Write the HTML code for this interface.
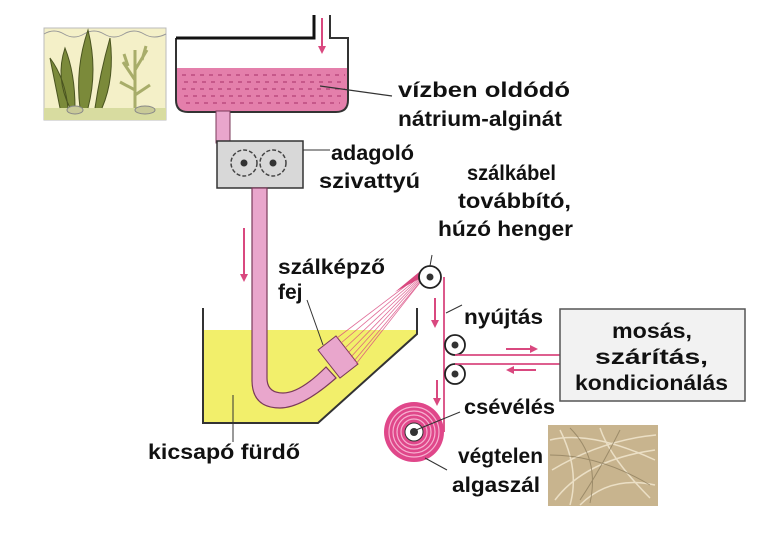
<!DOCTYPE html>
<html><head><meta charset="utf-8"><style>
html,body{margin:0;padding:0;background:#fff;}
svg{display:block;}
text{font-family:"Liberation Sans",sans-serif;font-weight:bold;font-size:21px;fill:#111;}
</style></head><body>
<svg width="772" height="533" viewBox="0 0 772 533" xmlns="http://www.w3.org/2000/svg">
<defs>
<marker id="ah" markerWidth="8" markerHeight="8" refX="4" refY="4" orient="auto" markerUnits="userSpaceOnUse"><path d="M0,0 L8,4 L0,8 Z" fill="#d9487f"/></marker>
</defs>
<!-- algae picture -->
<rect x="44" y="28" width="122" height="92" fill="#f4f0c8" stroke="#bbb"/>
<path d="M44,34 q10,-6 20,0 t20,0 t20,0 t20,0 t20,0 t22,0" fill="none" stroke="#999"/>
<rect x="44" y="108" width="122" height="12" fill="#d8dca0"/>
<path d="M70,108 q-15,-30 -5,-60 q10,25 10,60 M80,108 q-5,-40 8,-78 q10,40 0,78 M95,108 q5,-35 15,-70 q5,40 -8,70 M60,108 q-5,-25 -10,-50 q15,20 18,50" fill="#7b8a3a" stroke="#4a5420" stroke-width="1"/>
<path d="M135,108 L135,50 M135,80 l-12,-18 M135,70 l12,-20 M135,90 l-15,-8 M135,95 l15,-10 M128,66 l-4,-12 M142,60 l4,-14" stroke="#a8ad6a" stroke-width="3" fill="none"/>
<ellipse cx="75" cy="110" rx="8" ry="4" fill="#c9ca98" stroke="#888"/>
<ellipse cx="145" cy="110" rx="10" ry="4" fill="#c9ca98" stroke="#888"/>
<!-- top tank -->
<path d="M176,68 L176,100 q0,12 12,12 L336,112 q12,0 12,-12 L348,68 Z" fill="#e47fab"/>
<g stroke="#a8306a" stroke-width="1" stroke-dasharray="4,5"><line x1="182" y1="75" x2="345" y2="75"/><line x1="184" y1="82" x2="345" y2="82"/><line x1="182" y1="89" x2="345" y2="89"/><line x1="184" y1="96" x2="345" y2="96"/><line x1="186" y1="103" x2="340" y2="103"/></g>
<path d="M176,38 L176,100 q0,12 12,12 L336,112 q12,0 12,-12 L348,38 L330,38 L330,15" fill="none" stroke="#333" stroke-width="2"/>
<path d="M176,38 L314,38 L314,15" fill="none" stroke="#111" stroke-width="3"/>
<line x1="322" y1="18" x2="322" y2="50" stroke="#d9487f" stroke-width="2" marker-end="url(#ah)"/>
<line x1="320" y1="86" x2="392" y2="96" stroke="#333" stroke-width="1.2"/>
<text x="398" y="97" textLength="172" lengthAdjust="spacingAndGlyphs">vízben oldódó</text>
<text x="398" y="126" textLength="164" lengthAdjust="spacingAndGlyphs">nátrium-alginát</text>
<!-- pipe top to pump -->
<rect x="216" y="111" width="14" height="32" fill="#e9a6cc" stroke="#7a3a5a"/>
<!-- pump -->
<rect x="217" y="141" width="86" height="47" fill="#d8d8d8" stroke="#333" stroke-width="1.5"/>
<g fill="#d8d8d8" stroke="#444" stroke-width="1.5">
<circle cx="244" cy="163" r="13" stroke-dasharray="4,2"/>
<circle cx="273" cy="163" r="13" stroke-dasharray="4,2"/>
</g>
<circle cx="244" cy="163" r="3.5" fill="#333"/><circle cx="273" cy="163" r="3.5" fill="#333"/>
<line x1="303" y1="150" x2="330" y2="150" stroke="#333"/>
<text x="331" y="160" textLength="83" lengthAdjust="spacingAndGlyphs">adagoló</text>
<text x="319" y="188" textLength="101" lengthAdjust="spacingAndGlyphs">szivattyú</text>
<!-- bath -->
<path d="M203,330 L417,330 L417,334 L318,423 L203,423 Z" fill="#f2ef6b"/>
<path d="M203,308 L203,423 L318,423 L417,334 L417,308" fill="none" stroke="#333" stroke-width="2"/>
<!-- pipe J -->
<path d="M252,188 L252,380 Q252,408 280,408 Q302,408 336,378 L326,367 Q300,393 283,393 Q267,393 267,378 L267,188 Z" fill="#e9a6cc" stroke="#7a3a5a" stroke-width="1.2"/>
<!-- nozzle -->
<path d="M318,350 L336,336 L358,364 L340,378 Z" fill="#e9a6cc" stroke="#7a3a5a"/>
<line x1="244" y1="228" x2="244" y2="278" stroke="#d9487f" stroke-width="2" marker-end="url(#ah)"/>
<!-- fibers -->
<g stroke="#d9487f" stroke-width="0.8" opacity="0.8">
<line x1="337" y1="338" x2="424" y2="272"/><line x1="341" y1="343" x2="424" y2="273"/><line x1="345" y1="348" x2="425" y2="273"/><line x1="348" y1="353" x2="425" y2="274"/><line x1="351" y1="357" x2="426" y2="274"/><line x1="354" y1="361" x2="426" y2="275"/><line x1="356" y1="364" x2="426" y2="275"/>
</g>
<path d="M395,292 L424,268 L428,274 Z" fill="#d9487f"/>
<line x1="307" y1="300" x2="323" y2="345" stroke="#333"/>
<text x="278" y="274" textLength="107" lengthAdjust="spacingAndGlyphs">szálképző</text>
<text x="278" y="299">fej</text>
<line x1="233" y1="395" x2="233" y2="442" stroke="#333"/>
<text x="148" y="459" textLength="152" lengthAdjust="spacingAndGlyphs">kicsapó fürdő</text>
<!-- rollers & fiber path -->
<line x1="444" y1="277" x2="444" y2="432" stroke="#d9487f" stroke-width="1.8"/>
<circle cx="430" cy="277" r="11" fill="#fff" stroke="#222" stroke-width="1.8"/><circle cx="430" cy="277" r="3.5" fill="#333"/>
<circle cx="455" cy="345" r="10" fill="#fff" stroke="#222" stroke-width="1.8"/><circle cx="455" cy="345" r="3.5" fill="#333"/>
<circle cx="455" cy="374" r="10" fill="#fff" stroke="#222" stroke-width="1.8"/><circle cx="455" cy="374" r="3.5" fill="#333"/>
<line x1="455" y1="355" x2="560" y2="355" stroke="#d9487f" stroke-width="1.8"/>
<line x1="455" y1="364" x2="560" y2="364" stroke="#d9487f" stroke-width="1.8"/>
<line x1="506" y1="349" x2="534" y2="349" stroke="#d9487f" stroke-width="2" marker-end="url(#ah)"/>
<line x1="536" y1="370" x2="510" y2="370" stroke="#d9487f" stroke-width="2" marker-end="url(#ah)"/>
<line x1="435" y1="298" x2="435" y2="324" stroke="#d9487f" stroke-width="2" marker-end="url(#ah)"/>
<line x1="437" y1="380" x2="437" y2="402" stroke="#d9487f" stroke-width="2" marker-end="url(#ah)"/>
<line x1="432" y1="255" x2="430" y2="266" stroke="#333"/>
<text x="467" y="180" textLength="89" lengthAdjust="spacingAndGlyphs">szálkábel</text>
<text x="458" y="208" textLength="113" lengthAdjust="spacingAndGlyphs">továbbító,</text>
<text x="438" y="236" textLength="135" lengthAdjust="spacingAndGlyphs">húzó henger</text>
<line x1="446" y1="313" x2="462" y2="305" stroke="#333"/>
<text x="464" y="324" textLength="79" lengthAdjust="spacingAndGlyphs">nyújtás</text>
<!-- spool -->
<circle cx="414" cy="432" r="30" fill="#e0478a"/>
<g fill="none" stroke="#f6b0d0" stroke-width="1.2">
<circle cx="414" cy="432" r="25"/><circle cx="414" cy="432" r="21"/><circle cx="414" cy="432" r="17"/><circle cx="414" cy="432" r="13"/>
</g>
<circle cx="414" cy="432" r="9" fill="#fff" stroke="#333"/>
<circle cx="414" cy="432" r="4" fill="#333"/>
<line x1="416" y1="430" x2="460" y2="412" stroke="#333"/>
<text x="464" y="414" textLength="91" lengthAdjust="spacingAndGlyphs">csévélés</text>
<line x1="425" y1="458" x2="447" y2="470" stroke="#333"/>
<text x="458" y="463" textLength="85" lengthAdjust="spacingAndGlyphs">végtelen</text>
<text x="452" y="492" textLength="88" lengthAdjust="spacingAndGlyphs">algaszál</text>
<!-- box -->
<rect x="560" y="309" width="185" height="92" fill="#f2f2f2" stroke="#555" stroke-width="1.5"/>
<text x="612" y="338" textLength="80" lengthAdjust="spacingAndGlyphs">mosás,</text>
<text x="595" y="364" textLength="113" lengthAdjust="spacingAndGlyphs">szárítás,</text>
<text x="575" y="390" textLength="153" lengthAdjust="spacingAndGlyphs">kondicionálás</text>
<!-- fiber photo -->
<rect x="548" y="425" width="110" height="81" fill="#c8b48e"/>
<g stroke="#efe4cc" stroke-width="1.5" fill="none" opacity="0.9">
<path d="M550,440 q40,-10 105,20"/><path d="M552,470 q50,-30 104,-35"/><path d="M555,500 q30,-40 100,-50"/><path d="M560,430 q20,40 10,75"/><path d="M580,505 q30,-30 75,-20"/><path d="M600,428 q10,30 50,70"/>
</g>
<g stroke="#8a7a5a" stroke-width="1" fill="none" opacity="0.7">
<path d="M550,455 q50,0 100,30"/><path d="M570,428 q30,30 20,75"/><path d="M620,430 q-20,40 -40,70"/>
</g>
</svg>
</body></html>
